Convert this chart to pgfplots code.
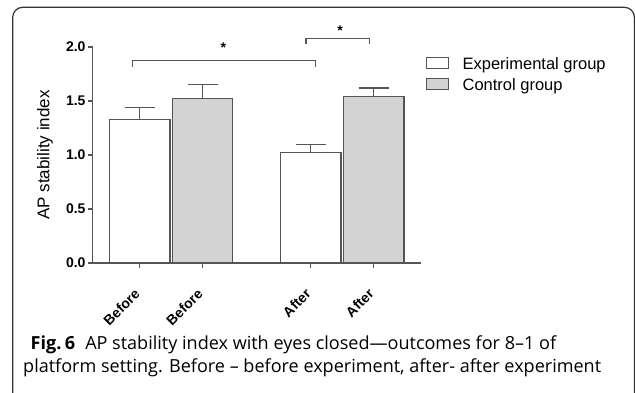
\documentclass[border=0pt]{standalone}
\usepackage{fontspec}
\setmainfont{Liberation Sans}
\newfontfamily\capfont{Open Sans}
\usepackage{pgfplots}
\usepackage{pgfplotstable}
\pgfplotsset{compat=1.18}
\definecolor{ax}{HTML}{555555}
\definecolor{barg}{HTML}{D3D3D3}
\definecolor{frm}{HTML}{333333}

\pgfplotstableread{
x y e
139.7 1.33 0.11
310.7 1.02 0.08
}\exptab
\pgfplotstableread{
x y e
202.5 1.52 0.13
373.6 1.54 0.08
}\ctltab

\newlength\capw
\begin{document}
\settowidth\capw{\capfont\fontsize{10}{12}\selectfont platform setting. Before – before experiment, after- after experiment}%
\pgfmathsetmacro\capsize{10*578/\capw}%
\begin{tikzpicture}[x=1pt,y=1pt]
\begin{axis}[
  at={(92.7pt,129pt)}, anchor=south west,
  scale only axis, width=328pt, height=216pt,
  xmin=92.7, xmax=420.7, ymin=0, ymax=2,
  ybar, bar width=60.6pt,
  legend image code/.code={\draw[#1, line width=1.2pt] (0pt,-4.25pt) rectangle (22.6pt,6.75pt);},
  axis x line*=bottom, axis y line*=left,
  axis line style={ax, line width=1.3pt},
  tick align=outside, major tick length=5pt,
  tick style={ax, line width=1.3pt},
  ytick={0,0.5,1,1.5,2},
  yticklabel style={font=\bfseries\fontsize{14}{14}\selectfont, inner sep=2pt},
  /pgf/number format/.cd, fixed, fixed zerofill, precision=1, assume math mode=true,
  /pgfplots/.cd,
  xtick={139.7,202.5,310.7,373.6},
  xticklabels={Before,Before,After,After},
  xticklabel style={rotate=45, anchor=east, font=\bfseries\fontsize{14}{14}\selectfont},
  xticklabel shift=21pt,
  ylabel={AP stability index},
  ylabel style={font=\fontsize{17}{17}\selectfont, at={(axis description cs:-0.1454,0.5)}, anchor=center},
  clip=false,
  legend style={at={(rel axis cs:1.0152,0.9546)}, anchor=north west, draw=none, fill=none,
    inner sep=0pt, outer sep=0pt, font=\fontsize{16.5}{16.5}\selectfont,
    nodes={inner sep=0.5pt}, row sep=6.9pt,
    /tikz/every odd column/.append style={column sep=12.6pt}},
  legend cell align=left,
]
\addplot[bar shift=0pt, fill=white, draw=ax, line width=1.2pt,
  error bars/.cd, y dir=plus, y explicit,
  error bar style={ax, line width=1.3pt},
  error mark options={ax, line width=1.3pt, mark size=15pt, rotate=90}]
  table[x=x, y=y, y error=e] {\exptab};
\addlegendentry{Experimental group}
\addplot[bar shift=0pt, fill=barg, draw=ax, line width=1.2pt,
  error bars/.cd, y dir=plus, y explicit,
  error bar style={ax, line width=1.3pt},
  error mark options={ax, line width=1.3pt, mark size=15pt, rotate=90}]
  table[x=x, y=y, y error=e] {\ctltab};
\addlegendentry{Control group}
\draw[ax, line width=1.2pt] (axis cs:132.3,1.817) |- (axis cs:315.7,1.873) -- (axis cs:315.7,1.817);
\draw[ax, line width=1.2pt] (axis cs:306,2.025) |- (axis cs:369.3,2.08) -- (axis cs:369.3,2.025);
\node[anchor=base, inner sep=0pt, font=\bfseries\fontsize{14}{14}\selectfont] at (axis cs:223.3,1.95) {*};
\node[anchor=base, inner sep=0pt, font=\bfseries\fontsize{14}{14}\selectfont] at (axis cs:340,2.107) {*};
\end{axis}
\node[anchor=base west, inner sep=0pt, font=\capfont\fontsize{\capsize}{\capsize}\selectfont] at (30.5,43) {\textbf{Fig.\hspace{3.5pt}6}\hspace{10pt}AP stability index with eyes closed—outcomes for 8–1 of};
\node[anchor=base west, inner sep=0pt, font=\capfont\fontsize{\capsize}{\capsize}\selectfont] at (23,20) {platform setting. Before – before experiment, after- after experiment};
\draw[frm, line width=1.2pt, rounded corners=10pt] (12.7,-1) -- (12.7,384.7) -- (634.4,384.7) -- (634.4,-1);
\pgfresetboundingbox
\useasboundingbox (0,0) rectangle (635,392);
\end{tikzpicture}
\end{document}
